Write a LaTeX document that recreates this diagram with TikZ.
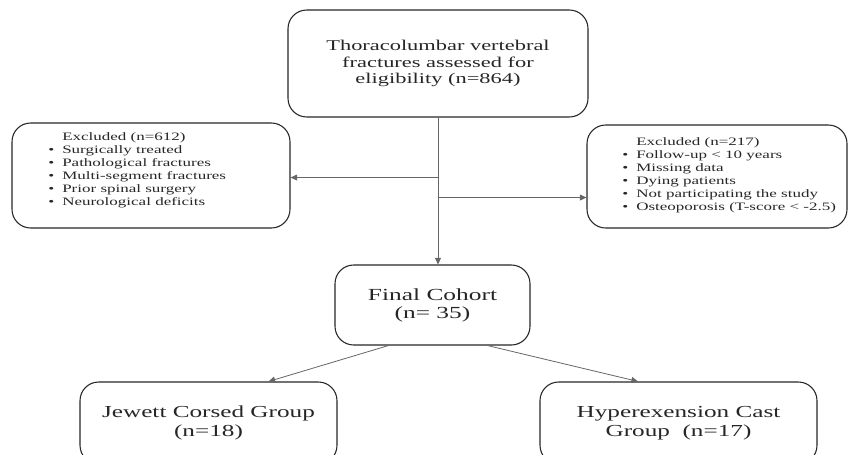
\documentclass[tikz,border=0pt]{standalone}
\usepackage{fontspec}
\setmainfont{Liberation Serif}[FakeStretch=1.5]
\usetikzlibrary{calc,arrows.meta}

\begin{document}
\begin{tikzpicture}[x=0.75pt,y=-0.75pt,
	box/.style={draw=black!85, line width=0.8pt, rounded corners=14pt, inner sep=0pt},
	list/.style={align=left, inner sep=0pt, text=black!85, font=\fontsize{8.5}{9.75}\selectfont},
	arr/.style={draw=black!60, line width=0.6pt, -{Triangle[length=5pt,width=4.5pt]}}]

	% page frame (849 x 454 px)
	\clip (0,0) rectangle (849,454);

	% bullets
	\def\bul{\makebox[10.5pt][l]{\textbullet}}
	\def\nobul{\hspace*{10.5pt}}

	% assessed box
	\node[box, minimum width=225pt, minimum height=80.25pt, align=center, text=black!85,
		font=\fontsize{11.2}{12.5}\selectfont] (assessed) at (438,63.5)
		{Thoracolumbar vertebral\\fractures assessed for\\eligibility (n=864)};

	% left exclusion box
	\node[box, minimum width=208.5pt, minimum height=78.75pt] (exclLeft) at (151,175.5) {};
	\node[list, anchor=west] (exclLeftText) at (48,170)
		{\nobul Excluded (n=612)\\
		\bul Surgically treated\\
		\bul Pathological fractures\\
		\bul Multi-segment fractures\\
		\bul Prior spinal surgery\\
		\bul Neurological deficits};

	% right exclusion box
	\node[box, minimum width=195pt, minimum height=77.25pt] (exclRight) at (717,176.5) {};
	\node[list, anchor=west] (exclRightText) at (622,175)
		{\nobul Excluded (n=217)\\
		\bul Follow-up < 10 years\\
		\bul Missing data\\
		\bul Dying patients\\
		\bul Not participating the study\\
		\bul Osteoporosis (T-score < -2.5)};

	% final cohort
	\node[box, minimum width=146.25pt, minimum height=60pt, align=center, text=black!85,
		font=\fontsize{12.7}{13.5}\selectfont] (cohort) at (432.5,305)
		{Final Cohort\\(n= 35)};

	% groups
	\node[box, minimum width=192.75pt, minimum height=61.5pt, align=center, text=black!85,
		font=\fontsize{12.6}{13.9}\selectfont] (jewett) at (208.5,423)
		{Jewett Corsed Group\\(n=18)};
	\node[box, minimum width=207.75pt, minimum height=61.5pt, align=center, text=black!85,
		font=\fontsize{12.6}{13.9}\selectfont] (cast) at (678.5,423)
		{Hyperexension Cast\\Group~~(n=17)};

	% split points
	\coordinate (splitL) at ($(assessed.south)+(0,60)$);
	\coordinate (splitR) at ($(assessed.south)+(0,80)$);
	\coordinate (cohortL) at ($(cohort.south)+(-44,0)$);
	\coordinate (cohortR) at ($(cohort.south)+(55,0)$);
	\coordinate (jewettIn) at ($(jewett.north)+(60,0)$);
	\coordinate (castIn) at ($(cast.north)+(-40.5,0)$);

	% main flow
	\draw[arr] (assessed.south) -- (assessed.south |- cohort.north);
	\draw[arr] (splitL) -- (splitL -| exclLeft.east);
	\draw[arr] (splitR) -- (splitR -| exclRight.west);

	% to groups
	\draw[arr] (cohortL) -- (jewettIn);
	\draw[arr] (cohortR) -- (castIn);

\end{tikzpicture}
\end{document}
